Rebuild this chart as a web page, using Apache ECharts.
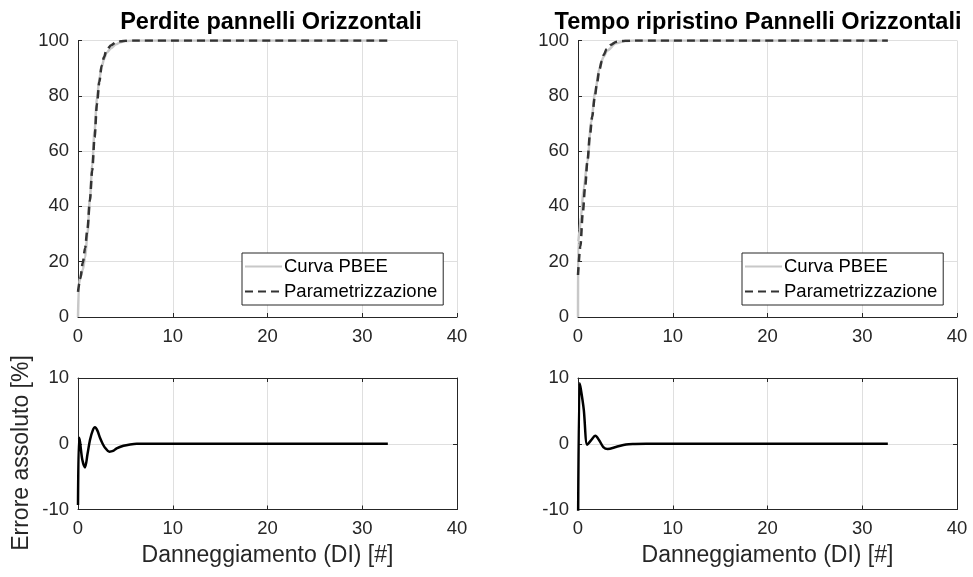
<!DOCTYPE html>
<html>
<head>
<meta charset="utf-8">
<script src="https://cdn.jsdelivr.net/npm/echarts@6/dist/echarts.min.js"></script>
<style>
  html, body { margin: 0; padding: 0; background: #ffffff; }
  #chart { width: 973px; height: 577px; }
</style>
</head>
<body>
<div id="chart"></div>
<script>
// Text
const titles = ['Perdite pannelli Orizzontali', 'Tempo ripristino Pannelli Orizzontali'];
const seriesNames = ['Curva PBEE', 'Parametrizzazione'];
const errorName = 'Errore';
const xLabel = 'Danneggiamento (DI) [#]';
const yLabel = 'Errore assoluto [%]';

// Tick values
const xTicks = [0, 10, 20, 30, 40];
const topYTicks = [0, 20, 40, 60, 80, 100];
const errYTicks = [-10, 0, 10];

// Perdite pannelli: PBEE curve
const perditePbeeX = [0, 0.1, 0.25, 0.5, 0.75, 1.0, 1.25, 1.5, 1.75, 2.0, 2.25, 2.5, 2.75, 3.0, 3.5, 4.0, 4.5, 5.0, 6.0, 32.7];
const perditePbeeY = [0, 12, 14.5, 17, 21.5, 30, 42.5, 55, 67.5, 79, 86, 90.5, 93.3, 95.5, 97.2, 98.6, 99.4, 99.8, 100, 100];
// Perdite pannelli: fitted curve
const perditeParX = [0, 0.25, 0.5, 0.75, 1.0, 1.25, 1.5, 1.75, 2.0, 2.25, 2.5, 2.75, 3.0, 3.5, 4.0, 4.5, 5.0, 6.0, 32.7];
const perditeParY = [9.1, 14, 19.5, 25, 32, 42, 53, 65, 77, 85, 91, 94, 96.5, 98.3, 99.3, 99.7, 99.9, 100, 100];
// Perdite pannelli: absolute error
const perditeErrX = [0, 0.1, 0.21, 0.45, 0.74, 1.0, 1.27, 1.55, 1.79, 2.05, 2.32, 2.6, 2.85, 3.3, 3.7, 4.08, 4.8, 5.5, 6.2, 32.7];
const perditeErrY = [-9.3, 0.9, 0.3, -2.4, -3.6, -1.6, 0.6, 2.0, 2.5, 2.0, 0.9, 0.0, -0.6, -1.2, -1.1, -0.7, -0.3, -0.1, 0, 0];

// Tempo ripristino: PBEE curve
const tempoPbeeX = [0, 0.01, 0.16, 0.3, 0.6, 1.0, 1.4, 1.8, 2.25, 2.7, 3.1, 4.0, 5.0, 6.0, 7.2, 32.7];
const tempoPbeeY = [0, 27, 31, 36, 46.5, 56.4, 70.6, 81.2, 89.8, 94.1, 96.4, 99.0, 99.8, 100, 100, 100];
// Tempo ripristino: fitted curve
const tempoParX = [0, 0.25, 0.5, 0.75, 1.0, 1.25, 1.5, 1.75, 2.0, 2.25, 2.5, 2.75, 3.0, 3.5, 4.0, 4.5, 5.0, 6.0, 32.7];
const tempoParY = [15.2, 25.5, 37.5, 47, 56.5, 65.5, 72.5, 79, 84.5, 89.3, 92.5, 95, 96.8, 98.5, 99.5, 99.8, 99.9, 100, 100];
// Tempo ripristino: absolute error
const tempoErrX = [0, 0.16, 0.3, 0.61, 0.97, 1.37, 1.83, 2.25, 2.67, 3.13, 4.0, 5.07, 6.0, 7.2, 32.7];
const tempoErrY = [-15, 9.2, 8.3, 5.2, -0.15, 0.5, 1.2, 0.5, -0.5, -0.8, -0.5, -0.1, -0.03, 0, 0];

const FONT = 'Liberation Sans, Arial, Helvetica, sans-serif';
const AXIS_COLOR = '#262626';
const GRID_COLOR = '#dfdfdf';

const zip = (xs, ys) => xs.map((x, i) => [x, ys[i]]);

const grids = [
  { left: 78, top: 40.5, width: 379, height: 276.5 },
  { left: 578, top: 40.5, width: 379, height: 276.5 },
  { left: 78, top: 378, width: 379, height: 131.5 },
  { left: 578, top: 378, width: 379, height: 131.5 }
];

function valueAxis(ticks, gridIndex, extra) {
  return Object.assign({
    type: 'value',
    gridIndex: gridIndex,
    min: ticks[0],
    max: ticks[ticks.length - 1],
    interval: ticks[1] - ticks[0],
    axisLine: { show: true, onZero: false, lineStyle: { color: AXIS_COLOR, width: 1 } },
    axisTick: { show: true, inside: true, length: 4, lineStyle: { color: AXIS_COLOR, width: 1 } },
    axisLabel: { show: true, fontSize: 18.5, color: AXIS_COLOR, fontFamily: FONT, margin: 9 },
    splitLine: { show: true, lineStyle: { color: GRID_COLOR, width: 1 } }
  }, extra || {});
}

// Box edges (top and right) for the error panels
const boxEdge = { axisLabel: { show: false }, splitLine: { show: false } };

const xName = {
  name: xLabel, nameLocation: 'middle', nameGap: 35,
  nameTextStyle: { fontSize: 23, color: AXIS_COLOR, fontFamily: FONT }
};
const xTickLabel = { axisLabel: { fontSize: 18.5, color: AXIS_COLOR, fontFamily: FONT, margin: 10 } };

const xAxes = [
  valueAxis(xTicks, 0, xTickLabel),
  valueAxis(xTicks, 1, xTickLabel),
  valueAxis(xTicks, 2, Object.assign({}, xTickLabel, xName)),
  valueAxis(xTicks, 3, Object.assign({}, xTickLabel, xName)),
  valueAxis(xTicks, 2, Object.assign({ position: 'top' }, boxEdge)),
  valueAxis(xTicks, 3, Object.assign({ position: 'top' }, boxEdge))
];

const yAxes = [
  valueAxis(topYTicks, 0),
  valueAxis(topYTicks, 1),
  valueAxis(errYTicks, 2),
  valueAxis(errYTicks, 3),
  valueAxis(errYTicks, 2, Object.assign({ position: 'right' }, boxEdge)),
  valueAxis(errYTicks, 3, Object.assign({ position: 'right' }, boxEdge))
];

function pbeeSeries(data, idx) {
  return {
    name: seriesNames[0], type: 'line', xAxisIndex: idx, yAxisIndex: idx,
    data: data, showSymbol: false, symbol: 'none', smooth: 0.3, smoothMonotone: 'x',
    lineStyle: { color: '#c8c8c8', width: 2.5 }, itemStyle: { color: '#c8c8c8' },
    z: 2, animation: false
  };
}
function parSeries(data, idx) {
  return {
    name: seriesNames[1], type: 'line', xAxisIndex: idx, yAxisIndex: idx,
    data: data, showSymbol: false, symbol: 'none', smooth: 0.3, smoothMonotone: 'x',
    lineStyle: { color: '#333333', width: 2.5, type: [8, 5] }, itemStyle: { color: '#333333' },
    z: 3, animation: false
  };
}
function errSeries(data, idx) {
  return {
    name: errorName, type: 'line', xAxisIndex: idx, yAxisIndex: idx,
    data: data, showSymbol: false, symbol: 'none', smooth: 0.3, clip: true,
    lineStyle: { color: '#000000', width: 2.5 }, itemStyle: { color: '#000000' },
    z: 3, animation: false
  };
}

function legendAt(left) {
  return {
    data: seriesNames, orient: 'vertical', left: left, top: 253,
    itemWidth: 37, itemHeight: 14, itemGap: 6,
    padding: [4, 6, 4, 2],
    borderColor: AXIS_COLOR, borderWidth: 1, backgroundColor: '#ffffff',
    selectedMode: false,
    itemStyle: { opacity: 0, borderWidth: 0 },
    textStyle: { fontSize: 18.5, color: '#000000', fontFamily: FONT, padding: [0, 0, 0, -3] }
  };
}

const option = {
  backgroundColor: '#ffffff',
  animation: false,
  title: [
    { text: titles[0], left: 266, top: 6, textAlign: 'center',
      textStyle: { fontSize: 23.5, fontWeight: 'bold', color: '#000000', fontFamily: FONT } },
    { text: titles[1], left: 753, top: 6, textAlign: 'center',
      textStyle: { fontSize: 23.5, fontWeight: 'bold', color: '#000000', fontFamily: FONT } }
  ],
  legend: [legendAt(242), legendAt(742)],
  grid: grids,
  xAxis: xAxes,
  yAxis: yAxes,
  graphic: [{
    type: 'text', x: 22, y: 453, rotation: Math.PI / 2,
    style: {
      text: yLabel, fontSize: 23, fontFamily: FONT, fill: AXIS_COLOR,
      align: 'center', verticalAlign: 'middle'
    }
  }],
  series: [
    pbeeSeries(zip(perditePbeeX, perditePbeeY), 0),
    parSeries(zip(perditeParX, perditeParY), 0),
    pbeeSeries(zip(tempoPbeeX, tempoPbeeY), 1),
    parSeries(zip(tempoParX, tempoParY), 1),
    errSeries(zip(perditeErrX, perditeErrY), 2),
    errSeries(zip(tempoErrX, tempoErrY), 3)
  ]
};

const chart = echarts.init(document.getElementById('chart'), null, { renderer: 'canvas' });
chart.setOption(option);
</script>
</body>
</html>
